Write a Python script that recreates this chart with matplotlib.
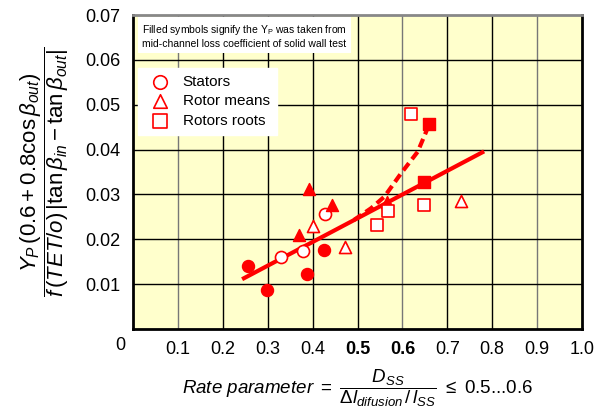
import numpy as np
import matplotlib

matplotlib.use("Agg")
import matplotlib.pyplot as plt

plt.rcParams["font.family"] = ["Liberation Sans", "DejaVu Sans"]
plt.rcParams["mathtext.fontset"] = "custom"
plt.rcParams["mathtext.rm"] = "Liberation Sans"
plt.rcParams["mathtext.it"] = "Liberation Sans:italic"
plt.rcParams["mathtext.bf"] = "Liberation Sans:bold"

# --- data ---
stators_filled_x = [0.257, 0.298, 0.387, 0.426]
stators_filled_y = [0.0141, 0.0087, 0.0122, 0.0177]
stators_open_x = [0.330, 0.378, 0.428]
stators_open_y = [0.0161, 0.0174, 0.0256]

means_filled_x = [0.369, 0.391, 0.443, 0.566]
means_filled_y = [0.0209, 0.0313, 0.0276, 0.0284]
means_open_x = [0.400, 0.473, 0.730]
means_open_y = [0.0229, 0.0183, 0.0285]

roots_filled_x = [0.647, 0.660]
roots_filled_y = [0.0328, 0.0457]
roots_open_x = [0.543, 0.569, 0.619, 0.647]
roots_open_y = [0.0232, 0.0263, 0.0480, 0.0276]

trend_x = [0.243, 0.782]
trend_y = [0.0111, 0.0396]

curve_x = [0.492, 0.530, 0.560, 0.597, 0.634, 0.653, 0.658]
curve_y = [0.0243, 0.0269, 0.0295, 0.0347, 0.0395, 0.0440, 0.0455]

xticks = [0.1, 0.2, 0.3, 0.4, 0.5, 0.6, 0.7, 0.8, 0.9, 1.0]
xtick_labels = ["0.1", "0.2", "0.3", "0.4", "0.5", "0.6", "0.7", "0.8", "0.9", "1.0"]
yticks = [0.01, 0.02, 0.03, 0.04, 0.05, 0.06, 0.07]
ytick_labels = ["0.01", "0.02", "0.03", "0.04", "0.05", "0.06", "0.07"]

RED = "#ff0000"

fig = plt.figure(figsize=(5.98, 4.17), dpi=100)
ax = fig.add_axes([133 / 598, 1 - 329 / 417, 449 / 598, 314 / 417])
ax.set_facecolor("#ffffcc")
ax.set_xlim(0, 1.0)
ax.set_ylim(0, 0.07)

# grid: most lines black, a few grey
for xv in xticks[:-1]:
    c = "#777777" if round(xv, 1) in (0.1, 0.6, 0.9) else "black"
    ax.axvline(xv, color=c, lw=1.0, zorder=1)
for yv in yticks[:-1]:
    ax.axhline(yv, color="black", lw=1.0, zorder=1)

ax.plot(trend_x, trend_y, color=RED, lw=3, solid_capstyle="butt", zorder=3)
ax.plot(curve_x, curve_y, color=RED, lw=3, ls=(0, (2.2, 1.2)), zorder=3)

ax.scatter(stators_filled_x, stators_filled_y, marker="o", s=75, color=RED, zorder=4)
ax.scatter(stators_open_x, stators_open_y, marker="o", s=75, facecolor="white", edgecolor=RED, lw=1.2, zorder=4)
ax.scatter(means_filled_x, means_filled_y, marker="^", s=75, color=RED, zorder=4)
ax.scatter(means_open_x, means_open_y, marker="^", s=75, facecolor="white", edgecolor=RED, lw=1.2, zorder=4)
ax.scatter(roots_filled_x, roots_filled_y, marker="s", s=75, color=RED, zorder=4)
ax.scatter(roots_open_x, roots_open_y, marker="s", s=75, facecolor="white", edgecolor=RED, lw=1.2, zorder=4)

ax.set_xticks(xticks)
ax.set_xticklabels(xtick_labels, fontsize=13)
for lab in ax.get_xticklabels():
    if lab.get_text() in ("0.5", "0.6"):
        lab.set_fontweight("bold")
ax.set_yticks(yticks)
ax.set_yticklabels(ytick_labels, fontsize=13)
ax.tick_params(length=0, pad=9)
for s in ax.spines.values():
    s.set_linewidth(2)
    s.set_color("black")
ax.spines["top"].set_color("#888888")

# shared origin label
fig.text(120 / 598, 1 - 345 / 417, "0", fontsize=13, ha="center", va="center")

# note box
ax.text(0.02, 0.0653,
        "Filled symbols signify the Y$_\\mathrm{P}$ was taken from\nmid-channel loss coefficient of solid wall test",
        fontsize=7.5, va="center", ha="left", zorder=6, linespacing=1.3,
        bbox=dict(facecolor="white", edgecolor="none", pad=3))

# legend
h1 = ax.scatter([], [], marker="o", s=95, facecolor="white", edgecolor=RED, lw=1.2)
h2 = ax.scatter([], [], marker="^", s=95, facecolor="white", edgecolor=RED, lw=1.2)
h3 = ax.scatter([], [], marker="s", s=95, facecolor="white", edgecolor=RED, lw=1.2)
leg = ax.legend([h1, h2, h3], ["Stators", "Rotor means", "Rotors roots"],
                loc="upper left", bbox_to_anchor=(0.0, 0.845), fontsize=11,
                frameon=True, fancybox=False, framealpha=1, edgecolor="white",
                handletextpad=0.5, borderpad=0.45, labelspacing=0.35,
                borderaxespad=0.3)
leg.set_zorder(6)

ax.set_ylabel(r"$\dfrac{Y_P\,(0.6+0.8\cos\beta_{out})}{f\,(TET/o)\,|\tan\beta_{in}-\tan\beta_{out}|}$",
              fontsize=16, labelpad=10)
ax.set_xlabel(r"$Rate\ parameter\ =\ \dfrac{D_{SS}}{\Delta l_{difusion}\,/\,l_{SS}}\ \leq$ 0.5...0.6",
              fontsize=13.5, labelpad=6)

fig.savefig("out.png", dpi=100)
